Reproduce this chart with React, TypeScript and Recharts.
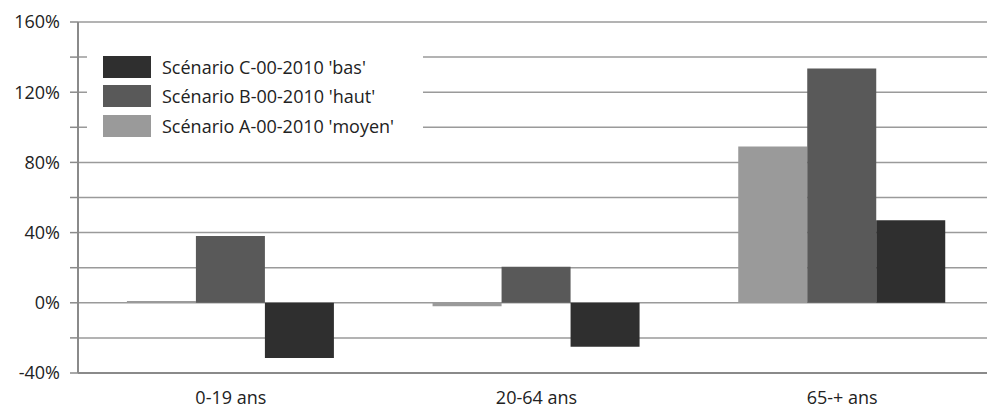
import { BarChart, Bar, XAxis, YAxis, CartesianGrid } from 'recharts';

const categories = ['0-19 ans', '20-64 ans', '65-+ ans'];
const scenarioA = [1, -2, 89];
const scenarioB = [38, 20.5, 133.5];
const scenarioC = [-31.5, -25, 47];
const yTicks = [-40, -20, 0, 20, 40, 60, 80, 100, 120, 140, 160];

const series = [
  { key: 'a', name: "Scénario A-00-2010 'moyen'", color: '#9a9a9a' },
  { key: 'b', name: "Scénario B-00-2010 'haut'", color: '#595959' },
  { key: 'c', name: "Scénario C-00-2010 'bas'", color: '#2f2f2f' },
];

const data = categories.map((name, i) => ({
  name,
  a: scenarioA[i],
  b: scenarioB[i],
  c: scenarioC[i],
}));

const font = '"Open Sans", "DejaVu Sans", sans-serif';

// legend sits on a white box over the gridlines, top-left of the plot
function LegendBox() {
  const items = [...series].reverse();
  return (
    <div
      style={{
        position: 'absolute',
        left: 87,
        top: 44,
        width: 336,
        height: 98,
        background: '#fff',
        paddingTop: 8,
        paddingLeft: 16,
        boxSizing: 'border-box',
      }}
    >
      {items.map((s) => (
        <div key={s.key} style={{ display: 'flex', alignItems: 'center', height: 29.5 }}>
          <div style={{ width: 48, height: 22, background: s.color, marginRight: 11, flexShrink: 0 }} />
          <span style={{ fontFamily: font, fontSize: 18, color: '#222', whiteSpace: 'nowrap' }}>{s.name}</span>
        </div>
      ))}
    </div>
  );
}

export default function App() {
  return (
    <div style={{ position: 'absolute', left: 0, top: 0, width: 987, height: 410, overflow: 'hidden', background: '#fff' }}>
      <BarChart
        width={995}
        height={410}
        data={data}
        margin={{ top: 22, right: 0, bottom: 7, left: 0 }}
        barCategoryGap="16%"
        barGap={0}
      >
        <CartesianGrid vertical={false} stroke="#9a9a9a" strokeWidth={1.5} />
        <XAxis
          dataKey="name"
          height={30}
          tickLine={false}
          axisLine={{ stroke: '#8a8a8a', strokeWidth: 2 }}
          tick={{ fontFamily: font, fontSize: 18, fill: '#222' }}
          tickMargin={12}
        />
        <YAxis
          width={78}
          domain={[-40, 160]}
          ticks={yTicks}
          interval={0}
          tickFormatter={(v: number) => (v % 40 === 0 ? `${v}%` : '')}
          tickSize={8}
          tickMargin={10}
          tickLine={{ stroke: '#8a8a8a', strokeWidth: 1.5 }}
          axisLine={{ stroke: '#8a8a8a', strokeWidth: 2 }}
          tick={{ fontFamily: font, fontSize: 18, fill: '#222' }}
        />
        {series.map((s) => (
          <Bar key={s.key} dataKey={s.key} name={s.name} fill={s.color} isAnimationActive={false} />
        ))}
      </BarChart>
      <LegendBox />
    </div>
  );
}
